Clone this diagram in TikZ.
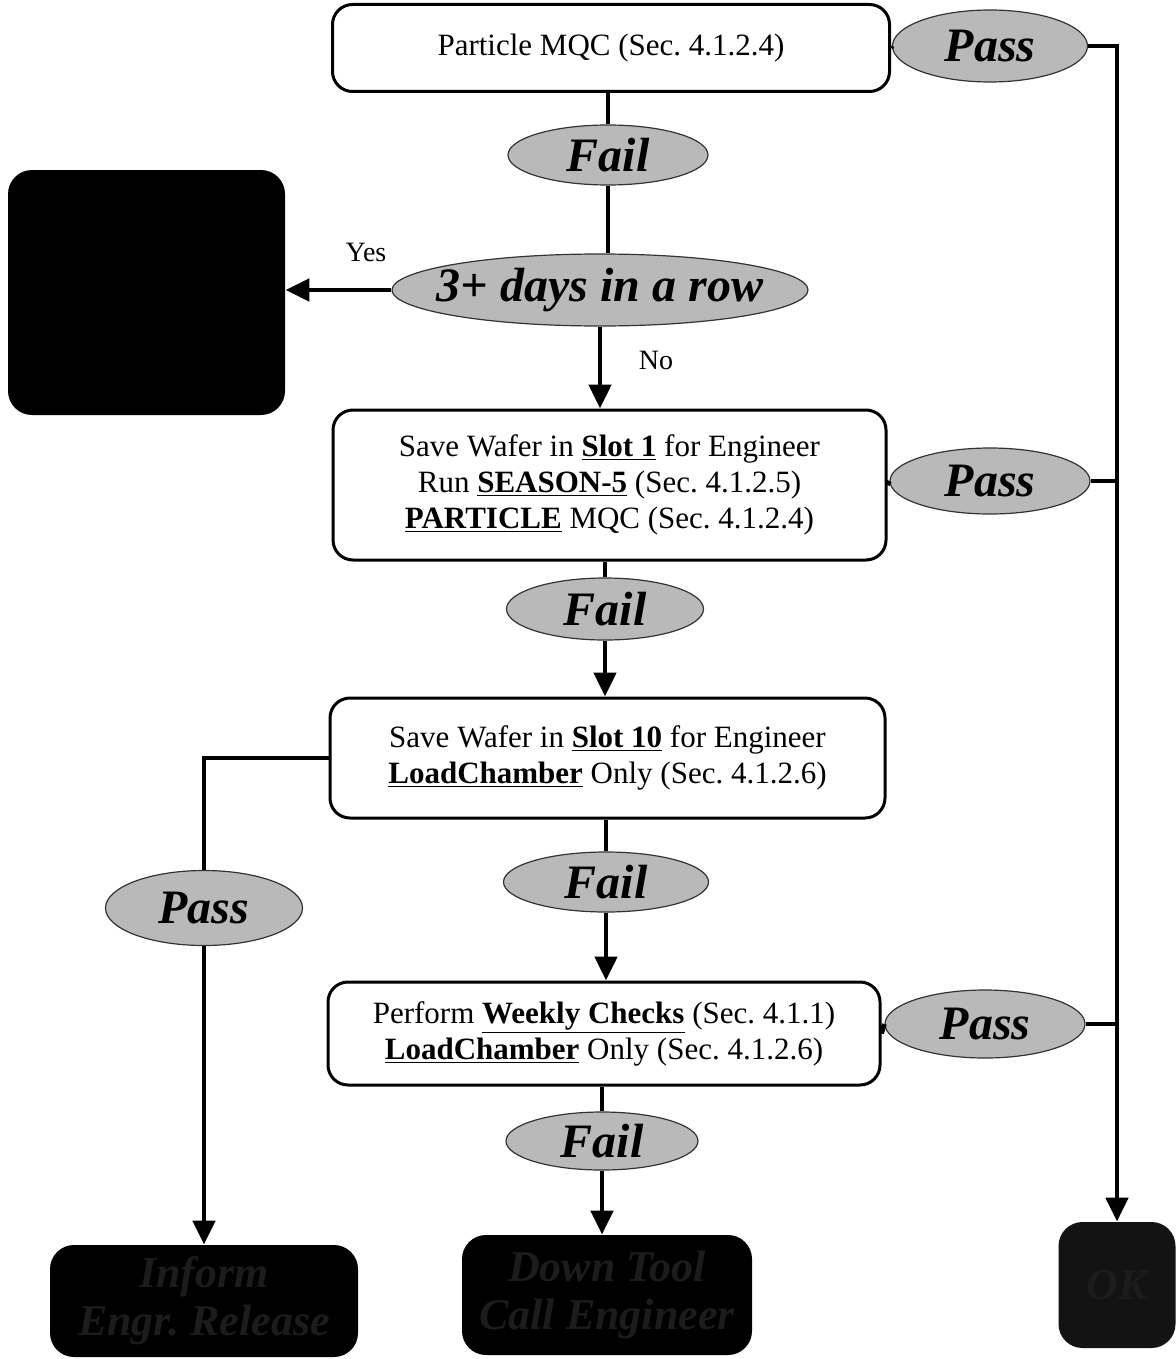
\documentclass[tikz,border=0pt]{standalone}
\usepackage{fontspec}
\setmainfont{Liberation Serif}
\usetikzlibrary{shapes.geometric,arrows.meta}
\frenchspacing
\begin{document}
\begin{tikzpicture}[x=0.5pt,y=-0.5pt,
  every node/.style={inner sep=0pt},
  procbox/.style={draw=black,line width=1.5pt,rounded corners=10pt,fill=white,
    align=center,font=\fontsize{15.5}{18}\selectfont},
  endbox/.style={fill=black,rounded corners=12pt,align=center,
    text=gray!22!black,font=\fontsize{22}{24}\selectfont\bfseries\itshape},
  decision/.style={ellipse,fill=gray!55,draw=gray!40!black,line width=0.6pt},
  dtext/.style={font=\fontsize{24}{26}\selectfont\bfseries\itshape,text=black},
  flow/.style={line width=2.4pt,draw=black},
  arr/.style={flow,-{Triangle[width=11pt,length=12pt]}},
  lbl/.style={font=\fontsize{14}{16}\selectfont}]
\useasboundingbox (0,0) rectangle (1175,1359);

% process boxes
\node[procbox,minimum width=278.5pt,minimum height=43.5pt] (b1) at (611,48)
  {Particle MQC (Sec. 4.1.2.4)};
\node[procbox,minimum width=276.5pt,minimum height=75pt] (b2) at (609.5,485)
  {Save Wafer in \textbf{\underline{Slot 1}} for Engineer\\
   Run \textbf{\underline{SEASON-5}} (Sec. 4.1.2.5)\\
   \textbf{\underline{PARTICLE}} MQC (Sec. 4.1.2.4)};
\node[procbox,minimum width=277.5pt,minimum height=60pt] (b3) at (607.5,758)
  {Save Wafer in \textbf{\underline{Slot 10}} for Engineer\\
   \textbf{\underline{LoadChamber}} Only (Sec. 4.1.2.6)};
\node[procbox,minimum width=276pt,minimum height=51.5pt] (b4) at (604,1033.5)
  {Perform \textbf{\underline{Weekly Checks}} (Sec. 4.1.1)\\
   \textbf{\underline{LoadChamber}} Only (Sec. 4.1.2.6)};

% terminal boxes
\node[endbox,minimum width=138.5pt,minimum height=122.5pt] (stop) at (146.5,292.5) {};
\node[endbox,minimum width=154pt,minimum height=56pt] (tl) at (204,1301) {Inform\\Engr. Release};
\node[endbox,minimum width=145pt,minimum height=60pt] (tm) at (607,1295) {Down Tool\\Call Engineer};
\node[endbox,fill=gray!15!black,minimum width=58.5pt,minimum height=63pt] (tr) at (1117,1285) {OK};

% decisions
\node[decision,minimum width=97.5pt,minimum height=36pt,label={[dtext]center:Pass}] (p1) at (990,46) {};
\node[decision,minimum width=100pt,minimum height=30pt,label={[dtext]center:Fail}] (f1) at (608,155) {};
\node[decision,minimum width=208pt,minimum height=36pt,label={[dtext]center:3+ days in a row}] (d3) at (600,290) {};
\node[decision,minimum width=100pt,minimum height=33pt,label={[dtext]center:Pass}] (p2) at (990,481) {};
\node[decision,minimum width=98.5pt,minimum height=31pt,label={[dtext]center:Fail}] (f2) at (605,609) {};
\node[decision,minimum width=98.5pt,minimum height=37.5pt,label={[dtext]center:Pass}] (p3) at (204,908) {};
\node[decision,minimum width=102.5pt,minimum height=30pt,label={[dtext]center:Fail}] (f3) at (606,882) {};
\node[decision,minimum width=100pt,minimum height=34pt,label={[dtext]center:Pass}] (p4) at (985,1024) {};
\node[decision,minimum width=96pt,minimum height=29pt,label={[dtext]center:Fail}] (f4) at (602,1141) {};

% labels
\node[lbl] (yes) at (366,252) {Yes};
\node[lbl] (no) at (656,360) {No};

% main failure path
\draw[flow] (f1.north) -- (f1.north |- b1.south);
\draw[flow] (f1.south) -- (f1.south |- d3.north);
\draw[arr] (d3.west) -- (d3.west -| stop.east);
\draw[arr] (d3.south) -- (d3.south |- b2.north);
\draw[flow] (f2.north) -- (f2.north |- b2.south);
\draw[arr] (f2.south) -- (f2.south |- b3.north);
\draw[flow] (f3.north) -- (f3.north |- b3.south);
\draw[arr] (f3.south) -- (f3.south |- b4.north);
\draw[flow] (f4.north) -- (f4.north |- b4.south);
\draw[arr] (f4.south) -- (f4.south |- tm.north);

% pass paths
\coordinate (trunk) at (1117,46);
\draw[flow] (b1.east) -- (p1.west);
\draw[arr] (p1.east) -- (trunk) -- (tr.north);
\draw[flow] (b2.east) -- (p2.west);
\draw[flow] (p2.east) -- (p2.east -| trunk);
\draw[flow] (b4.east) -- (p4.west);
\draw[flow] (p4.east) -- (p4.east -| trunk);
\draw[flow] (b3.west) -| (p3.north);
\draw[arr] (p3.south) -- (tl.north);
\end{tikzpicture}
\end{document}
